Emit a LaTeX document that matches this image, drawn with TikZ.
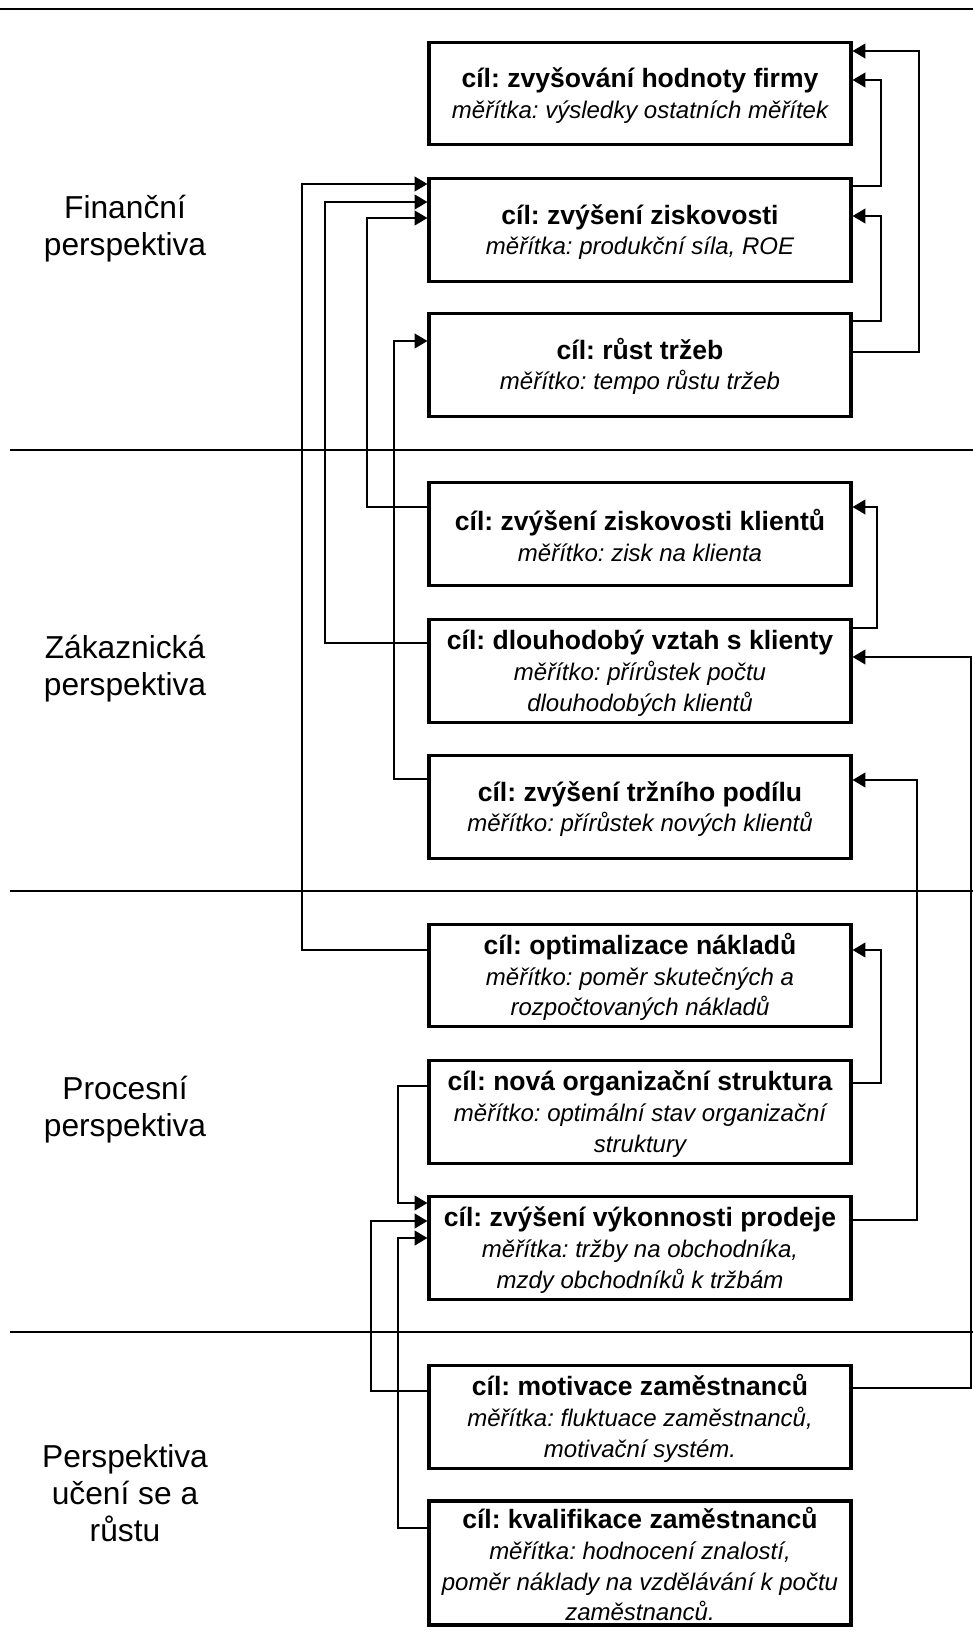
\documentclass[tikz,border=0pt]{standalone}
\usepackage{fontspec}
\setmainfont{Liberation Sans}
\usetikzlibrary{arrows.meta}
\frenchspacing

\newcommand\goaltitle[1]{{\fontsize{19.9}{23.25}\selectfont\bfseries\rule{0pt}{18pt}#1}}
\newcommand\goalmeasure[1]{{\itshape #1}}

\begin{document}
\begin{tikzpicture}[x=0.75pt,y=-0.75pt,
  goal/.style={draw, line width=2.4pt, minimum width=316.5pt, minimum height=77pt,
    inner sep=0pt, align=center, font=\fontsize{18}{23}\selectfont},
  persp/.style={align=center, font=\fontsize{23.8}{27.75}\selectfont},
  sep/.style={line width=0.9pt},
  conn/.style={line width=1.2pt, -{Triangle[length=9.5pt,width=11pt]}},
]
\useasboundingbox (0,0) rectangle (973,1651);

% perspective bands
\draw[sep] (0,9) -- (973,9);
\draw[sep] (10,450) -- (973,450);
\draw[sep] (10,891) -- (973,891);
\draw[sep] (10,1332) -- (973,1332);

% perspective labels
\node[persp] (pfin) at (125,229) {Finanční\\perspektiva};
\node[persp] (pzak) at (125,669) {Zákaznická\\perspektiva};
\node[persp] (pproc) at (125,1110) {Procesní\\perspektiva};
\node[persp] (pucen) at (125,1493) {Perspektiva\\učení se a\\růstu};

% goals
\node[goal] (b1) at (640,93.5) {\goaltitle{cíl: zvyšování hodnoty firmy}\\\goalmeasure{měřítka: výsledky ostatních měřítek}};
\node[goal] (b2) at (640,230) {\goaltitle{cíl: zvýšení ziskovosti}\\\goalmeasure{měřítka: produkční síla, ROE}};
\node[goal] (b3) at (640,365) {\goaltitle{cíl: růst tržeb}\\\goalmeasure{měřítko: tempo růstu tržeb}};

\node[goal] (b4) at (640,534) {\goaltitle{cíl: zvýšení ziskovosti klientů}\\\goalmeasure{měřítko: zisk na klienta}};
\node[goal] (b5) at (640,671) {\goaltitle{cíl: dlouhodobý vztah s klienty}\\\goalmeasure{měřítko: přírůstek počtu}\\\goalmeasure{dlouhodobých klientů}};
\node[goal] (b6) at (640,807) {\goaltitle{cíl: zvýšení tržního podílu}\\\goalmeasure{měřítko: přírůstek nových klientů}};

\node[goal] (b7) at (640,975.5) {\goaltitle{cíl: optimalizace nákladů}\\\goalmeasure{měřítko: poměr skutečných a}\\\goalmeasure{rozpočtovaných nákladů}};
\node[goal] (b8) at (640,1112) {\goaltitle{cíl: nová organizační struktura}\\\goalmeasure{měřítko: optimální stav organizační}\\\goalmeasure{struktury}};
\node[goal] (b9) at (640,1248) {\goaltitle{cíl: zvýšení výkonnosti prodeje}\\\goalmeasure{měřítka: tržby na obchodníka,}\\\goalmeasure{mzdy obchodníků k tržbám}};

\node[goal] (b10) at (640,1417) {\goaltitle{cíl: motivace zaměstnanců}\\\goalmeasure{měřítka: fluktuace zaměstnanců,}\\\goalmeasure{motivační systém.}};
\node[goal, minimum height=93pt] (b11) at (640,1563) {\goaltitle{cíl: kvalifikace zaměstnanců}\\\goalmeasure{měřítka: hodnocení znalostí,}\\\goalmeasure{poměr náklady na vzdělávání k počtu}\\\goalmeasure{zaměstnanců.}};

% links on the right side
\draw[conn] (b3.east |- 0,352) -| (919,51) -- (b1.east |- 0,51);
\draw[conn] (b2.east |- 0,186) -| (881,80) -- (b1.east |- 0,80);
\draw[conn] (b3.east |- 0,321) -| (881,216) -- (b2.east |- 0,216);
\draw[conn] (b5.east |- 0,628) -| (877,507) -- (b4.east |- 0,507);
\draw[conn] (b10.east |- 0,1388) -| (971,657) -- (b5.east |- 0,657);
\draw[conn] (b9.east |- 0,1220) -| (917,780) -- (b6.east |- 0,780);
\draw[conn] (b8.east |- 0,1083) -| (881,950) -- (b7.east |- 0,950);

% links on the left side
\draw[conn] (b7.west |- 0,950) -| (302,184) -- (b2.west |- 0,184);
\draw[conn] (b5.west |- 0,643) -| (325,202) -- (b2.west |- 0,202);
\draw[conn] (b4.west |- 0,507) -| (367,218) -- (b2.west |- 0,218);
\draw[conn] (b6.west |- 0,779) -| (394,341) -- (b3.west |- 0,341);
\draw[conn] (b8.west |- 0,1086) -| (398,1203) -- (b9.west |- 0,1203);
\draw[conn] (b10.west |- 0,1391) -| (371,1221) -- (b9.west |- 0,1221);
\draw[conn] (b11.west |- 0,1528) -| (398,1238) -- (b9.west |- 0,1238);
\end{tikzpicture}
\end{document}
